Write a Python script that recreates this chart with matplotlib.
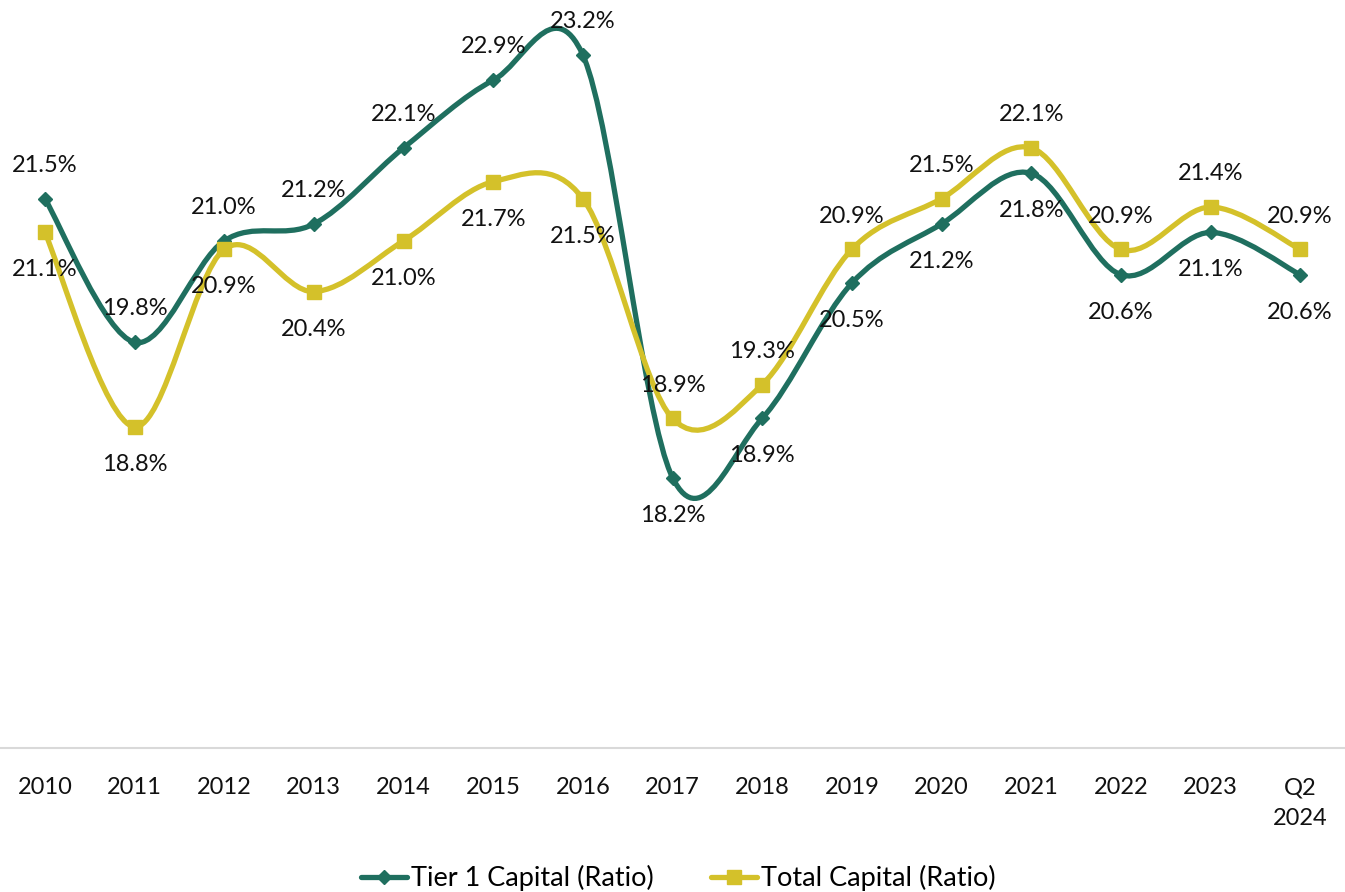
import matplotlib
matplotlib.use("Agg")
import matplotlib.pyplot as plt
from matplotlib.path import Path
from matplotlib.patches import PathPatch
from matplotlib.lines import Line2D
import numpy as np

categories = ["2010", "2011", "2012", "2013", "2014", "2015", "2016", "2017",
              "2018", "2019", "2020", "2021", "2022", "2023", "Q2\n2024"]
tier1 = [21.5, 19.8, 21.0, 21.2, 22.1, 22.9, 23.2, 18.2, 18.9, 20.5, 21.2, 21.8, 20.6, 21.1, 20.6]
total = [21.1, 18.8, 20.9, 20.4, 21.0, 21.7, 21.5, 18.9, 19.3, 20.9, 21.5, 22.1, 20.9, 21.4, 20.9]
# label position: +1 above, -1 below
tier1_pos = [1, 1, 1, 1, 1, 1, 1, -1, -1, -1, -1, -1, -1, -1, -1]
total_pos = [-1, -1, -1, -1, -1, -1, -1, 1, 1, 1, 1, 1, 1, 1, 1]

GREEN = "#1F6F5F"
YELLOW = "#D4C12A"
FONT = "Lato"

plt.rcParams['font.family'] = [FONT, 'DejaVu Sans']

fig = plt.figure(figsize=(13.45, 8.92), dpi=100)
ax = fig.add_axes([0, (892 - 748) / 892, 1, 748 / 892])
ax.set_xlim(-0.5, len(categories) - 0.5)
ax.set_ylim(15, 23.85)


def smooth_path(xs, ys):
    pts = np.column_stack([xs, ys]).astype(float)
    n = len(pts)
    verts = [pts[0]]
    codes = [Path.MOVETO]
    for i in range(n - 1):
        p0 = pts[i - 1] if i > 0 else pts[i]
        p1 = pts[i]
        p2 = pts[i + 1]
        p3 = pts[i + 2] if i + 2 < n else pts[i + 1]
        c1 = p1 + (p2 - p0) / 6.0
        c2 = p2 - (p3 - p1) / 6.0
        verts += [c1, c2, p2]
        codes += [Path.CURVE4] * 3
    return Path(verts, codes)


x = np.arange(len(categories))
for vals, col, mk, ms, pos in [(tier1, GREEN, "D", 7, tier1_pos), (total, YELLOW, "s", 10, total_pos)]:
    patch = PathPatch(smooth_path(x, vals), facecolor="none", edgecolor=col, lw=3.8,
                      capstyle="round", joinstyle="round", zorder=3)
    ax.add_patch(patch)
    ax.plot(x, vals, linestyle="none", marker=mk, markersize=ms, color=col, zorder=4)
    for xi, v, p in zip(x, vals, pos):
        dy = 24 if p > 0 else -27
        ax.annotate(f"{v:.1f}%", (xi, v), xytext=(0, dy), textcoords="offset points",
                    ha="center", va="center", fontsize=17, color="#111111", zorder=5)

ax.set_xticks(x)
ax.set_xticklabels(categories, fontsize=17, color="#111111", linespacing=1.55, va="top")
ax.tick_params(axis="x", length=0, pad=21)
ax.set_yticks([])
for s in ["top", "left", "right"]:
    ax.spines[s].set_visible(False)
ax.spines["bottom"].set_color("#D9D9D9")
ax.spines["bottom"].set_linewidth(1.5)
ax.patch.set_alpha(0)

handles = [Line2D([], [], color=GREEN, lw=3.8, marker="D", markersize=7, solid_capstyle="round"),
           Line2D([], [], color=YELLOW, lw=3.8, marker="s", markersize=10, solid_capstyle="round")]
fig.legend(handles, ["Tier 1 Capital (Ratio)", "Total Capital (Ratio)"], loc="center",
           bbox_to_anchor=(678.5 / 1345, 1 - 878 / 892), ncol=2, frameon=False, fontsize=19.5,
           handlelength=1.7, handletextpad=0.15, columnspacing=2.1, borderaxespad=0)

fig.savefig("out.png", dpi=100)
